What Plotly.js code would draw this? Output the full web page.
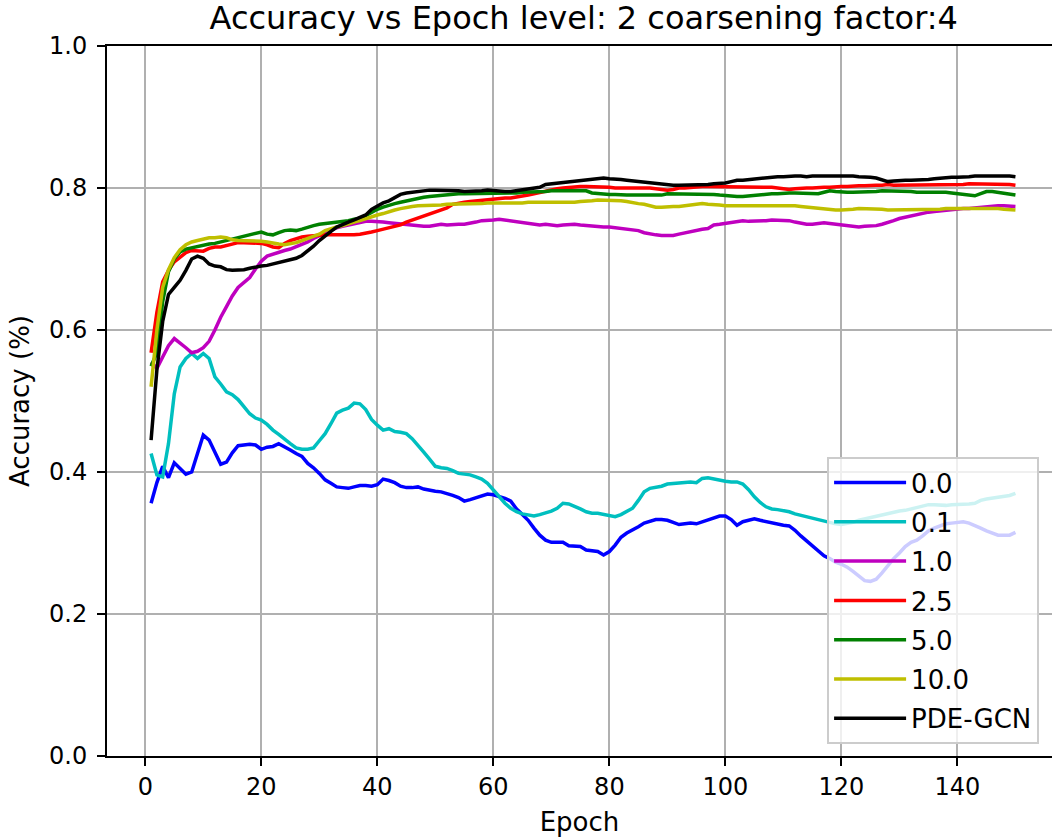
<!DOCTYPE html>
<html>
<head>
<meta charset="utf-8">
<script src="https://cdn.plot.ly/plotly-3.0.1.min.js"></script>
<style>
  html, body { margin: 0; padding: 0; background: #ffffff; }
  #chart { width: 1052px; height: 840px; }
</style>
</head>
<body>
<div id="chart"></div>
<script>
// Validation accuracy per epoch for each diffusion setting, plus the PDE-GCN baseline.
const epochs = Array.from({length: 150}, (_, i) => i + 1);

const acc_0_0 = [
  0.356,0.385,0.408,0.392,0.413,0.405,0.397,0.400,0.425,0.452,
  0.445,0.428,0.411,0.414,0.427,0.437,0.438,0.439,0.438,0.432,
  0.435,0.436,0.440,0.436,0.431,0.426,0.422,0.412,0.406,0.398,
  0.389,0.384,0.379,0.378,0.377,0.379,0.381,0.381,0.380,0.382,
  0.390,0.388,0.385,0.380,0.378,0.378,0.379,0.376,0.374,0.373,
  0.372,0.370,0.367,0.364,0.359,0.361,0.364,0.367,0.369,0.368,
  0.366,0.363,0.359,0.348,0.340,0.332,0.321,0.311,0.304,0.301,
  0.301,0.301,0.296,0.296,0.295,0.290,0.289,0.288,0.283,0.288,
  0.297,0.308,0.314,0.318,0.323,0.328,0.331,0.333,0.333,0.332,
  0.329,0.326,0.327,0.328,0.327,0.330,0.332,0.335,0.338,0.338,
  0.333,0.325,0.330,0.332,0.334,0.332,0.330,0.328,0.326,0.325,
  0.324,0.318,0.310,0.303,0.296,0.289,0.282,0.278,0.273,0.270,
  0.266,0.260,0.254,0.247,0.246,0.249,0.258,0.268,0.278,0.286,
  0.295,0.301,0.304,0.310,0.317,0.321,0.324,0.327,0.328,0.329,
  0.330,0.328,0.325,0.321,0.317,0.314,0.311,0.311,0.311,0.315
];

const acc_0_1 = [
  0.426,0.396,0.393,0.440,0.510,0.548,0.560,0.567,0.560,0.567,
  0.560,0.534,0.524,0.513,0.509,0.502,0.492,0.482,0.476,0.473,
  0.467,0.459,0.453,0.446,0.440,0.434,0.432,0.432,0.434,0.444,
  0.454,0.468,0.483,0.487,0.490,0.497,0.496,0.488,0.474,0.466,
  0.459,0.461,0.457,0.456,0.454,0.447,0.438,0.428,0.418,0.408,
  0.406,0.405,0.402,0.398,0.397,0.396,0.393,0.390,0.384,0.375,
  0.366,0.356,0.349,0.344,0.341,0.339,0.338,0.340,0.342,0.345,
  0.349,0.356,0.355,0.352,0.348,0.344,0.342,0.342,0.340,0.338,
  0.337,0.340,0.345,0.349,0.360,0.372,0.377,0.378,0.380,0.383,
  0.384,0.385,0.386,0.386,0.385,0.391,0.392,0.390,0.389,0.387,
  0.386,0.386,0.383,0.375,0.365,0.357,0.351,0.348,0.347,0.346,
  0.344,0.341,0.339,0.337,0.334,0.332,0.330,0.328,0.327,0.326,
  0.327,0.329,0.332,0.334,0.336,0.338,0.340,0.342,0.344,0.345,
  0.346,0.348,0.349,0.351,0.354,0.354,0.353,0.353,0.354,0.354,
  0.354,0.355,0.356,0.360,0.362,0.363,0.364,0.366,0.367,0.370
];

const acc_1_0 = [
  0.555,0.546,0.562,0.578,0.588,0.582,0.575,0.568,0.570,0.575,
  0.584,0.600,0.618,0.633,0.648,0.660,0.667,0.674,0.686,0.697,
  0.704,0.707,0.710,0.712,0.714,0.717,0.720,0.724,0.729,0.733,
  0.737,0.741,0.744,0.746,0.748,0.750,0.752,0.753,0.753,0.753,
  0.752,0.751,0.750,0.750,0.749,0.748,0.747,0.746,0.746,0.748,
  0.749,0.748,0.749,0.749,0.749,0.750,0.752,0.754,0.754,0.755,
  0.756,0.755,0.753,0.752,0.751,0.750,0.749,0.748,0.749,0.748,
  0.747,0.748,0.749,0.749,0.748,0.747,0.746,0.746,0.745,0.745,
  0.744,0.743,0.742,0.741,0.740,0.737,0.735,0.734,0.733,0.733,
  0.733,0.735,0.737,0.738,0.740,0.742,0.743,0.748,0.749,0.750,
  0.751,0.753,0.754,0.753,0.753,0.753,0.754,0.755,0.755,0.754,
  0.754,0.752,0.750,0.749,0.749,0.750,0.751,0.750,0.749,0.748,
  0.747,0.746,0.745,0.746,0.746,0.747,0.749,0.751,0.754,0.757,
  0.759,0.761,0.763,0.765,0.766,0.767,0.768,0.769,0.769,0.770,
  0.771,0.771,0.772,0.773,0.773,0.774,0.775,0.775,0.775,0.774
];

const acc_2_5 = [
  0.568,0.625,0.668,0.684,0.696,0.703,0.709,0.712,0.711,0.711,
  0.715,0.717,0.717,0.719,0.721,0.723,0.723,0.723,0.723,0.722,
  0.720,0.717,0.716,0.722,0.726,0.729,0.731,0.732,0.733,0.734,
  0.734,0.734,0.734,0.733,0.733,0.734,0.735,0.736,0.738,0.740,
  0.742,0.743,0.745,0.748,0.752,0.755,0.757,0.760,0.763,0.766,
  0.769,0.772,0.777,0.779,0.780,0.781,0.782,0.783,0.783,0.784,
  0.785,0.786,0.786,0.787,0.788,0.790,0.792,0.794,0.796,0.798,
  0.799,0.800,0.801,0.801,0.802,0.802,0.802,0.801,0.801,0.801,
  0.800,0.800,0.800,0.800,0.801,0.800,0.800,0.799,0.798,0.797,
  0.798,0.800,0.800,0.801,0.801,0.802,0.802,0.802,0.802,0.802,
  0.802,0.802,0.802,0.802,0.802,0.802,0.801,0.801,0.800,0.799,
  0.798,0.799,0.800,0.800,0.800,0.801,0.801,0.801,0.802,0.802,
  0.802,0.803,0.803,0.803,0.804,0.804,0.804,0.805,0.804,0.804,
  0.805,0.804,0.804,0.805,0.804,0.804,0.805,0.805,0.804,0.805,
  0.805,0.806,0.806,0.805,0.806,0.806,0.805,0.805,0.805,0.804
];

const acc_5_0 = [
  0.549,0.568,0.640,0.682,0.700,0.710,0.714,0.716,0.718,0.720,
  0.721,0.722,0.724,0.726,0.728,0.730,0.732,0.734,0.737,0.738,
  0.735,0.734,0.737,0.740,0.741,0.740,0.742,0.745,0.747,0.749,
  0.750,0.750,0.751,0.753,0.754,0.756,0.757,0.761,0.766,0.770,
  0.773,0.776,0.778,0.780,0.782,0.784,0.786,0.787,0.788,0.789,
  0.790,0.791,0.792,0.792,0.792,0.792,0.792,0.792,0.792,0.792,
  0.793,0.793,0.793,0.793,0.794,0.794,0.795,0.795,0.795,0.796,
  0.796,0.796,0.797,0.797,0.797,0.796,0.793,0.792,0.792,0.791,
  0.791,0.790,0.790,0.790,0.790,0.789,0.789,0.789,0.790,0.792,
  0.792,0.792,0.792,0.792,0.792,0.792,0.792,0.791,0.790,0.789,
  0.789,0.788,0.788,0.789,0.790,0.790,0.791,0.792,0.792,0.793,
  0.793,0.793,0.793,0.793,0.792,0.792,0.794,0.796,0.795,0.794,
  0.794,0.794,0.794,0.794,0.795,0.795,0.796,0.796,0.796,0.795,
  0.795,0.795,0.794,0.794,0.794,0.795,0.795,0.794,0.793,0.792,
  0.790,0.789,0.789,0.792,0.795,0.795,0.794,0.793,0.791,0.790
];

const acc_10_0 = [
  0.520,0.600,0.660,0.685,0.702,0.713,0.720,0.724,0.726,0.728,
  0.730,0.730,0.731,0.730,0.727,0.726,0.726,0.726,0.726,0.725,
  0.724,0.722,0.721,0.720,0.721,0.723,0.726,0.729,0.731,0.735,
  0.740,0.743,0.745,0.747,0.750,0.752,0.754,0.757,0.759,0.762,
  0.764,0.767,0.769,0.771,0.773,0.774,0.775,0.775,0.776,0.776,
  0.776,0.777,0.777,0.778,0.778,0.778,0.778,0.778,0.779,0.779,
  0.778,0.778,0.778,0.778,0.779,0.780,0.780,0.779,0.779,0.779,
  0.779,0.779,0.780,0.780,0.781,0.781,0.782,0.783,0.783,0.782,
  0.782,0.782,0.781,0.779,0.778,0.777,0.775,0.773,0.773,0.774,
  0.774,0.774,0.775,0.776,0.777,0.778,0.777,0.777,0.776,0.775,
  0.775,0.775,0.776,0.776,0.776,0.776,0.775,0.775,0.775,0.775,
  0.775,0.775,0.774,0.773,0.772,0.771,0.770,0.770,0.769,0.769,
  0.769,0.770,0.771,0.771,0.771,0.770,0.770,0.769,0.769,0.770,
  0.770,0.770,0.770,0.769,0.769,0.770,0.770,0.771,0.771,0.771,
  0.772,0.772,0.772,0.772,0.771,0.771,0.771,0.770,0.770,0.769
];

const acc_pde_gcn = [
  0.445,0.544,0.612,0.650,0.660,0.670,0.684,0.700,0.704,0.701,
  0.693,0.690,0.689,0.685,0.684,0.684,0.685,0.687,0.689,0.690,
  0.691,0.693,0.695,0.697,0.700,0.701,0.705,0.711,0.718,0.726,
  0.733,0.739,0.745,0.749,0.752,0.755,0.758,0.762,0.770,0.775,
  0.779,0.782,0.787,0.791,0.793,0.794,0.796,0.796,0.797,0.797,
  0.797,0.797,0.796,0.796,0.795,0.795,0.796,0.796,0.797,0.796,
  0.796,0.795,0.795,0.796,0.797,0.798,0.799,0.801,0.805,0.806,
  0.807,0.807,0.808,0.809,0.810,0.812,0.813,0.814,0.814,0.813,
  0.813,0.812,0.811,0.810,0.809,0.808,0.807,0.806,0.805,0.804,
  0.804,0.804,0.804,0.805,0.805,0.805,0.805,0.806,0.806,0.807,
  0.809,0.811,0.811,0.812,0.813,0.813,0.814,0.815,0.816,0.816,
  0.817,0.817,0.817,0.816,0.817,0.817,0.817,0.818,0.818,0.818,
  0.817,0.817,0.816,0.816,0.815,0.814,0.811,0.809,0.810,0.811,
  0.811,0.811,0.811,0.812,0.812,0.813,0.814,0.815,0.815,0.815,
  0.815,0.816,0.817,0.817,0.817,0.818,0.818,0.818,0.817,0.816
];

const seriesNames  = ["0.0", "0.1", "1.0", "2.5", "5.0", "10.0", "PDE-GCN"];
const seriesValues = [acc_0_0, acc_0_1, acc_1_0, acc_2_5, acc_5_0, acc_10_0, acc_pde_gcn];
const seriesColors = ["#0000ff", "#00bfbf", "#bf00bf", "#ff0000", "#008000", "#bfbf00", "#000000"];

const xTicks = [0, 20, 40, 60, 80, 100, 120, 140];
const yTicks = [0.0, 0.2, 0.4, 0.6, 0.8, 1.0];

const traces = seriesNames.map((name, i) => ({
  type: "scatter",
  mode: "lines",
  name: name,
  legendgroup: "g" + i,
  x: epochs,
  y: seriesValues[i],
  line: {color: seriesColors[i], width: 3.5},
  hoverinfo: "skip"
}));

const font = "DejaVu Sans, sans-serif";

const layout = {
  width: 1052,
  height: 840,
  margin: {l: 107, r: 0, t: 46, b: 84},
  paper_bgcolor: "#ffffff",
  plot_bgcolor: "#ffffff",
  font: {family: font, color: "#000000", size: 24},
  title: {
    text: "Accuracy vs Epoch level: 2 coarsening factor:4",
    font: {family: font, size: 32, color: "#000000"},
    x: 0.5045, xref: "paper", xanchor: "center",
    y: 0.979, yref: "container", yanchor: "middle"
  },
  xaxis: {
    range: [-6.6, 156.3],
    tickmode: "array",
    tickvals: xTicks,
    ticktext: xTicks.map(String),
    ticks: "outside", ticklen: 8, tickwidth: 2, tickcolor: "#000000",
    showline: true, linecolor: "#000000", linewidth: 2, mirror: true,
    showgrid: true, gridcolor: "#b0b0b0", gridwidth: 2,
    zeroline: false,
    tickfont: {family: font, size: 24, color: "#000000"},
    title: {text: "Epoch", font: {family: font, size: 26, color: "#000000"}, standoff: 13}
  },
  yaxis: {
    range: [0, 1],
    tickmode: "array",
    tickvals: yTicks,
    ticktext: yTicks.map(v => v.toFixed(1)),
    ticks: "outside", ticklen: 8, tickwidth: 2, tickcolor: "#000000",
    ticklabelstandoff: 5,
    showline: true, linecolor: "#000000", linewidth: 2, mirror: false,
    showgrid: true, gridcolor: "#b0b0b0", gridwidth: 2,
    zeroline: false,
    tickfont: {family: font, size: 24, color: "#000000"},
    title: {text: "Accuracy (%)", font: {family: font, size: 26, color: "#000000"}, standoff: 12}
  },
  legend: {
    x: 0.762, y: 0.421, xanchor: "left", yanchor: "top",
    bgcolor: "rgba(255,255,255,0.8)",
    bordercolor: "#cccccc", borderwidth: 2,
    font: {family: font, size: 26, color: "#000000"},
    itemwidth: 72,
    tracegroupgap: 2.5
  },
  showlegend: true,
  hovermode: false
};

Plotly.newPlot("chart", traces, layout, {staticPlot: true, displayModeBar: false});
</script>
</body>
</html>
